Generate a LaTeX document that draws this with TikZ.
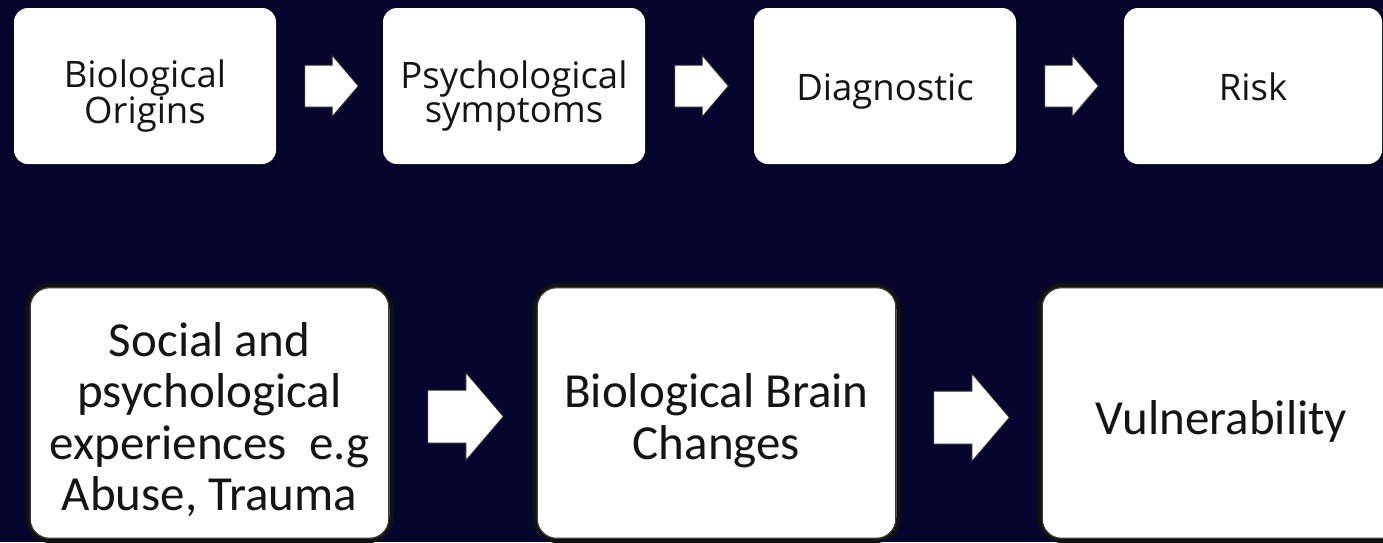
\documentclass[tikz,border=0pt]{standalone}
\usepackage{fontspec}
\newfontfamily\stagefont{Open Sans}
\newfontfamily\causefont{Carlito}
\usetikzlibrary{shapes.arrows,shadows.blur}
\definecolor{bg}{HTML}{06052E}
\definecolor{ink}{HTML}{141414}
\definecolor{rim}{HTML}{111111}
\definecolor{seam}{HTML}{3A3A3A}
\begin{document}
\begin{tikzpicture}[x=1pt,y=-1pt,
  stage/.style={rectangle, rounded corners=14pt, fill=white, inner sep=0pt,
    minimum width=262pt, minimum height=156pt,
    blur shadow={shadow xshift=1pt, shadow yshift=-1.5pt, shadow blur radius=2.5pt, shadow opacity=60}},
  stagetext/.style={font=\stagefont\fontsize{36.5}{34.5}\selectfont, text=ink, align=center, inner sep=0pt},
  cause/.style={rectangle, rounded corners=24pt, fill=white, draw=rim, line width=4.5pt,
    minimum width=364pt, minimum height=256pt, inner sep=0pt},
  causetext/.style={font=\causefont\fontsize{49}{51.5}\selectfont, text=ink, align=center, inner sep=0pt},
  seamline/.style={draw=seam, line width=1.2pt, rounded corners=19pt},
  flow/.style={single arrow, fill=white, draw=black!85, line width=1pt, anchor=tail,
    inner xsep=0pt, inner ysep=20.5pt,
    single arrow head extend=10pt, single arrow tip angle=99,
    minimum height=54pt},
  bigflow/.style={flow, inner ysep=26pt, single arrow head extend=17.5pt, minimum height=76pt}
]
\useasboundingbox (0,0) rectangle (1383,542);
\fill[bg] (0,0) rectangle (1383,542);

% upper chain
\node[stage] (b1) at (145,86) {};
\node[stage] (b2) at (514,86) {};
\node[stage] (b3) at (885,86) {};
\node[stage, minimum width=258pt] (b4) at (1253,86) {};

\node[stagetext] (t1) at ([yshift=-10pt]b1.center) {Biological\\Origins};
\node[stagetext] (t2) at ([yshift=-10pt]b2.center) {Psychological\\symptoms};
\node[stagetext, text height=27pt, text depth=8pt] (t3) at ([yshift=-4.5pt]b3.center) {Diagnostic};
\node[stagetext, text height=27pt, text depth=8pt] (t4) at ([yshift=-4.5pt]b4.center) {Risk};

% block arrows, placed by their tails
\node[flow] (a1) at (304,86) {};
\node[flow] (a2) at (674,86) {};
\node[flow] (a3) at (1044,86) {};

% lower chain
\node[cause] (b5) at (209.5,413) {};
\node[cause] (b6) at (716.5,413) {};
\node[cause] (b7) at (1221.5,413) {};
\foreach \b in {b5,b6,b7}
  \draw[seamline] ([shift={(5,5)}]\b.north west) rectangle ([shift={(-5,-5)}]\b.south east);

\node[causetext] (t5) at ([yshift=-6.5pt]b5.center) {Social and\\psychological\\experiences~ e.g\\Abuse, Trauma};
\node[causetext] (t6) at ([yshift=-7.7pt]b6.center) {Biological Brain\\Changes};
\node[causetext] (t7) at ([yshift=-8pt]b7.center) {Vulnerability};

\node[bigflow] (a4) at (427,416.5) {};
\node[bigflow] (a5) at (933,417.5) {};
\end{tikzpicture}
\end{document}
